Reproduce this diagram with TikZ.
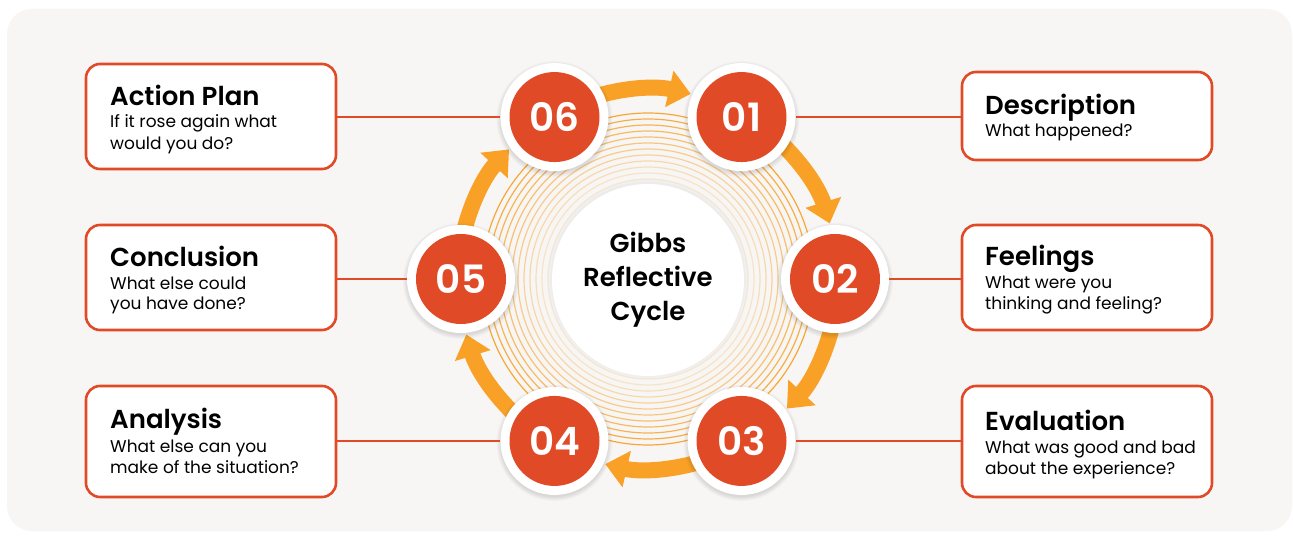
\documentclass[tikz,border=0pt]{standalone}
\usepackage{fontspec}
\setmainfont{Poppins}[BoldFont={* SemiBold}]
\usetikzlibrary{arrows.meta}
\definecolor{bgc}{HTML}{F7F6F4}
\definecolor{redc}{HTML}{E04A27}
\definecolor{orc}{HTML}{F9A126}
\begin{document}
\begin{tikzpicture}[x=1pt,y=1pt,
  box/.style={draw=redc, line width=2.6pt, fill=white, rounded corners=14pt,
    minimum width=250pt, inner sep=0pt},
  ttl/.style={anchor=base west, inner sep=0pt, font=\fontsize{26}{30}\selectfont\bfseries},
  bdy/.style={anchor=base west, inner sep=0pt, font=\fontsize{17}{21}\selectfont},
  link/.style={draw=redc, line width=2pt},
  flow/.style={draw=orc, line width=16pt, -{Triangle[width=36pt,length=22pt]}},
  ring/.style={circle, fill=white, minimum size=108pt, inner sep=0pt},
  badge/.style={circle, fill=redc, minimum size=90pt, inner sep=0pt, text=white,
    font=\fontsize{39}{39}\selectfont\bfseries}
]
\useasboundingbox (0,0) rectangle (1293,536);
\fill[white] (0,0) rectangle (1293,536);
\fill[bgc, rounded corners=25pt] (7,5) rectangle (1292,527);

\coordinate (C) at (648,257);

% concentric rings around the hub
\foreach \i in {0,...,11}{
  \pgfmathsetmacro\rr{100+6*\i}
  \pgfmathsetmacro\op{0.15+0.07*\i}
  \draw[orc, line width=1.2pt, opacity=\op] (C) circle[radius=\rr];
}
% soft halo and hub
\foreach \i in {1,...,5}
  \fill[black, opacity=0.008] (C) circle[radius=96+\i];
\node[circle, fill=white, minimum size=192pt, inner sep=0pt, align=center,
  font=\fontsize{26}{34}\selectfont\bfseries] (hub) at (648,256) {Gibbs\\Reflective\\Cycle};

% boxes
\node[box, minimum height=105pt] (bAP) at (211,419.5) {};
\node[box, minimum height=105pt] (bCo) at (211,258.5) {};
\node[box, minimum height=111pt] (bAn) at (211,94.5) {};
\node[box, minimum height=88pt]  (bDe) at (1087,420) {};
\node[box, minimum height=105pt] (bFe) at (1087,258.5) {};
\node[box, minimum height=111pt] (bEv) at (1087,94.5) {};

\node[ttl] (tAP) at (110,430) {Action Plan};
\node[bdy] (sAP1) at (110,408) {If it rose again what};
\node[bdy] (sAP2) at (110,386) {would you do?};
\node[ttl] (tCo) at (110,269) {Conclusion};
\node[bdy] (sCo1) at (110,246) {What else could};
\node[bdy] (sCo2) at (110,226) {you have done?};
\node[ttl] (tAn) at (110,108) {Analysis};
\node[bdy] (sAn1) at (110,84) {What else can you};
\node[bdy] (sAn2) at (110,63) {make of the situation?};
\node[ttl] (tDe) at (985,421) {Description};
\node[bdy] (sDe1) at (985,399) {What happened?};
\node[ttl] (tFe) at (985,270) {Feelings};
\node[bdy] (sFe1) at (985,247) {What were you};
\node[bdy] (sFe2) at (985,226) {thinking and feeling?};
\node[ttl] (tEv) at (985,106) {Evaluation};
\node[bdy] (sEv1) at (985,83) {What was good and bad};
\node[bdy] (sEv2) at (985,62) {about the experience?};

% cycle arrows (clockwise)
\foreach \a in {120,60,0,-60,-120,180}
  \draw[flow] ([shift={(\a-8:190)}]C) arc[start angle=\a-8, end angle=\a-43, radius=190];

% step badges
\foreach \n/\a in {01/60,02/0,03/-60,04/-120,05/180,06/120}{
  \foreach \i in {1,...,5}
    \fill[black, opacity=0.025] ([shift={(\a:187)}]C) ++(0,-2) circle[radius=53+\i];
}
\foreach \n/\a in {01/60,02/0,03/-60,04/-120,05/180,06/120}
  \node[ring] (w\n) at ([shift={(\a:187)}]C) {};

% connectors from boxes to badges
\draw[link] (bAP.east |- w06) -- (w06.west);
\draw[link] (bCo.east |- w05) -- (w05.west);
\draw[link] (bAn.east |- w04) -- (w04.west);
\draw[link] (bDe.west |- w01) -- (w01.east);
\draw[link] (bFe.west |- w02) -- (w02.east);
\draw[link] (bEv.west |- w03) -- (w03.east);

\foreach \n in {01,02,03,04,05,06}
  \node[badge] (c\n) at (w\n) {\n};
\end{tikzpicture}
\end{document}
